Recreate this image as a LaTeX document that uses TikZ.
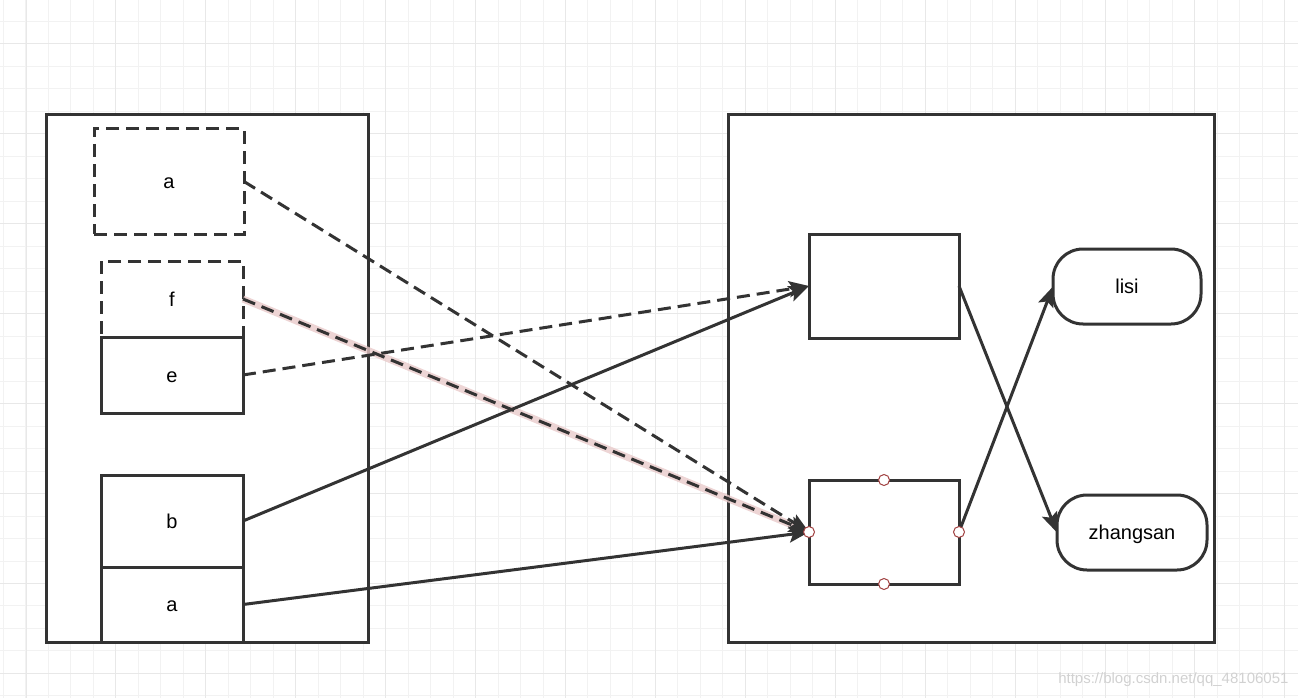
\documentclass[tikz,border=0pt]{standalone}
\usepackage{fontspec}
\setmainfont{Liberation Sans}
\usepackage{xcolor}
\usepackage{tikz}
\usetikzlibrary{arrows.meta,positioning}
\definecolor{ink}{HTML}{333333}
\definecolor{gridlo}{HTML}{F2F2F2}
\definecolor{gridhi}{HTML}{E8E8E8}
\definecolor{portred}{HTML}{A04040}
\definecolor{glowpink}{HTML}{E9CACA}
\tikzstyle{box} = [draw=ink, fill=white, line width=3pt, inner sep=0pt, outer sep=0pt, text height=14.5pt, text depth=0pt, font=\fontsize{20}{24}\selectfont]
\tikzstyle{dbox} = [box, dash pattern=on 13pt off 7pt]
\tikzstyle{pill} = [box, rounded corners=30pt]
\tikzstyle{port} = [circle, draw=portred, fill=white, line width=1pt, minimum size=11pt, inner sep=0pt]
\tikzstyle{arrow} = [draw=ink, line width=3pt, -{Stealth[length=20pt,width=16pt,inset=4pt]}]
\tikzstyle{darrow} = [arrow, dash pattern=on 13pt off 7pt]
\tikzstyle{glow} = [draw=glowpink, line width=7pt, opacity=0.8]

\begin{document}
\begin{tikzpicture}[x=1pt, y=-1pt]
    \useasboundingbox (0,0) rectangle (1298,698);
    % grid
    \foreach \i in {0,...,57} \draw[gridlo, line width=1pt] ({3.5+22.48*\i},0) -- ++(0,698);
    \foreach \i in {0,...,30} \draw[gridlo, line width=1pt] (0,{21.5+22.48*\i}) -- ++(1298,0);
    \foreach \i in {0,...,14} \draw[gridhi, line width=1pt] ({26+89.92*\i},0) -- ++(0,698);
    \foreach \i in {0,...,7} \draw[gridhi, line width=1pt] (0,{44+89.92*\i}) -- ++(1298,0);

    % left side
    \node[box, minimum width=322pt, minimum height=527pt] (lbox) at (207,378.5) {};
    \node[dbox, minimum width=150pt, minimum height=105pt] (atop) at (169,181.5) {a};
    \node[dbox, minimum width=142pt, minimum height=76pt] (f) at (172,299) {f};
    \node[box, minimum width=142pt, minimum height=76pt, below=0pt of f] (e) {e};
    \node[box, minimum width=142pt, minimum height=92pt] (b) at (172,521) {b};
    \node[box, minimum width=142pt, minimum height=75pt, below=0pt of b] (abot) {a};

    % right side
    \node[box, minimum width=486pt, minimum height=527pt] (rbox) at (971,378.5) {};
    \node[box, minimum width=150pt, minimum height=104pt] (upper) at (884,286) {};
    \node[box, minimum width=150pt, minimum height=104pt] (lower) at (884,532) {};
    \node[pill, minimum width=148pt, minimum height=75pt] (lisi) at (1127,286.5) {lisi};
    \node[pill, minimum width=150pt, minimum height=75pt] (zhangsan) at (1132,532.5) {zhangsan};

    % references
    \draw[glow] (f.east) -- (lower.west);
    \draw[darrow] (atop.east) -- (lower.west);
    \draw[darrow] (f.east) -- (lower.west);
    \draw[darrow] (e.east) -- (upper.west);
    \draw[arrow] (b.east) -- (upper.west);
    \draw[arrow] (abot.east) -- (lower.west);
    \draw[arrow] (upper.east) -- (zhangsan.west);
    \draw[arrow] (lower.east) -- (lisi.west);

    \node[port] (pn) at (lower.north) {};
    \node[port] (ps) at (lower.south) {};
    \node[port] (pw) at (lower.west) {};
    \node[port] (pe) at (lower.east) {};

    \node[text=black!18, font=\fontsize{15}{18}\selectfont, anchor=east] (mark) at (1292,680) {https://blog.csdn.net/qq\_48106051};
\end{tikzpicture}
\end{document}
